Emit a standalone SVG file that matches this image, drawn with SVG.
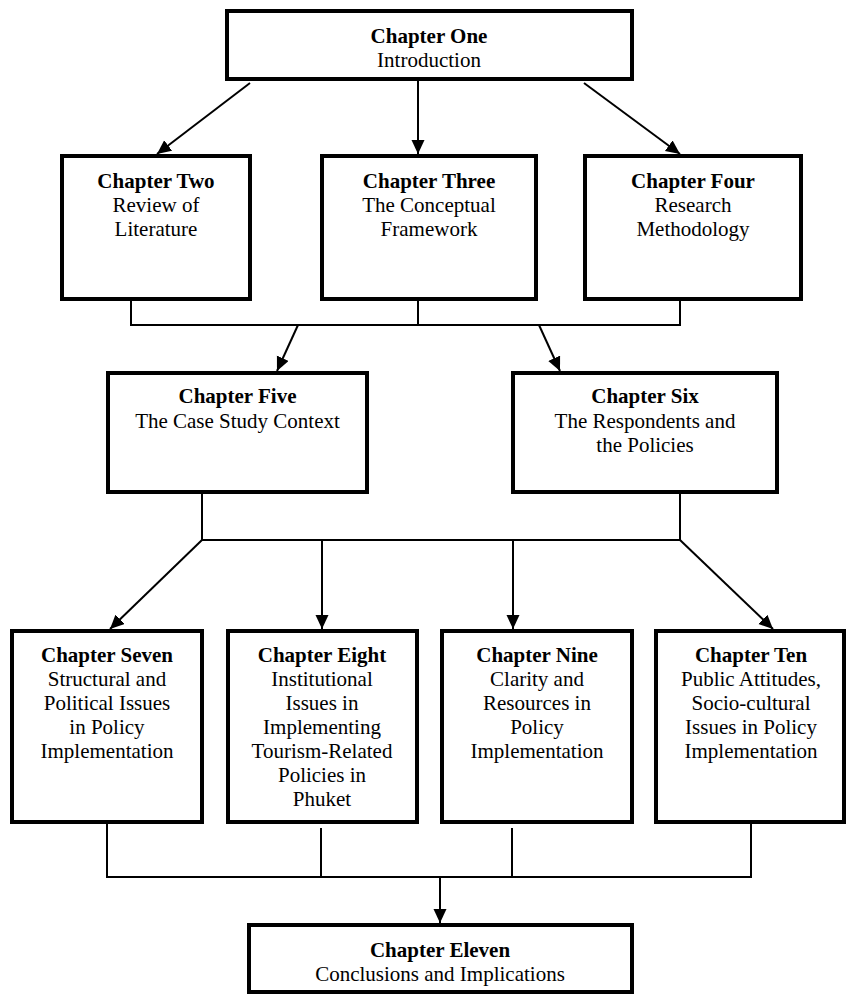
<svg xmlns="http://www.w3.org/2000/svg" width="849" height="997" viewBox="0 0 849 997">
  <defs>
    <marker id="arrow" markerUnits="userSpaceOnUse" markerWidth="15" markerHeight="14" refX="14" refY="6.5" orient="auto">
      <path d="M0,0 L14,6.5 L0,13 z" fill="#000"/>
    </marker>
    <style>
      .box { fill: #fff; stroke: #000; stroke-width: 4; }
      .link { fill: none; stroke: #000; stroke-width: 2; }
      .arr { marker-end: url(#arrow); }
      text { font-family: "Liberation Serif", "Times New Roman", serif; font-size: 21px; fill: #000; text-anchor: middle; }
      .title { font-weight: bold; }
    </style>
  </defs>
  <rect width="849" height="997" fill="#fff"/>

  <!-- connectors -->
  <g id="connectors">
    <!-- Chapter One to the second row -->
    <line class="link arr" x1="250" y1="83" x2="157" y2="154"/>
    <line class="link arr" x1="418" y1="81" x2="418" y2="154"/>
    <line class="link arr" x1="584" y1="83" x2="680" y2="154"/>
    <!-- second row bus -->
    <polyline class="link" points="131,301 131,325 680,325 680,301"/>
    <line class="link" x1="418" y1="301" x2="418" y2="325"/>
    <line class="link arr" x1="298" y1="325" x2="277" y2="371"/>
    <line class="link arr" x1="539" y1="325" x2="560" y2="371"/>
    <!-- third row bus -->
    <polyline class="link" points="202,494 202,540 680,540 680,494"/>
    <line class="link arr" x1="202" y1="540" x2="110" y2="629"/>
    <line class="link arr" x1="322" y1="540" x2="322" y2="629"/>
    <line class="link arr" x1="513" y1="540" x2="513" y2="629"/>
    <line class="link arr" x1="680" y1="540" x2="773" y2="629"/>
    <!-- fourth row bus -->
    <polyline class="link" points="107,824 107,877 751,877 751,824"/>
    <line class="link" x1="321" y1="828" x2="321" y2="877"/>
    <line class="link" x1="512" y1="828" x2="512" y2="877"/>
    <line class="link arr" x1="440" y1="877" x2="440" y2="923"/>
  </g>

  <g id="ch1">
    <rect class="box" x="227" y="11" width="405" height="68"/>
    <text class="title" x="429" y="43">Chapter One</text>
    <text x="429" y="67">Introduction</text>
  </g>

  <g id="ch2">
    <rect class="box" x="62" y="156" width="188" height="143"/>
    <text class="title" x="156" y="188">Chapter Two</text>
    <text x="156" y="212">Review of</text>
    <text x="156" y="236">Literature</text>
  </g>

  <g id="ch3">
    <rect class="box" x="322" y="156" width="214" height="143"/>
    <text class="title" x="429" y="188">Chapter Three</text>
    <text x="429" y="212">The Conceptual</text>
    <text x="429" y="236">Framework</text>
  </g>

  <g id="ch4">
    <rect class="box" x="585" y="156" width="216" height="143"/>
    <text class="title" x="693" y="188">Chapter Four</text>
    <text x="693" y="212">Research</text>
    <text x="693" y="236">Methodology</text>
  </g>

  <g id="ch5">
    <rect class="box" x="108" y="373" width="259" height="119"/>
    <text class="title" x="237.5" y="403">Chapter Five</text>
    <text x="237.5" y="428">The Case Study Context</text>
  </g>

  <g id="ch6">
    <rect class="box" x="513" y="373" width="264" height="119"/>
    <text class="title" x="645" y="403">Chapter Six</text>
    <text x="645" y="428">The Respondents and</text>
    <text x="645" y="452">the Policies</text>
  </g>

  <g id="ch7">
    <rect class="box" x="12" y="631" width="190" height="191"/>
    <text class="title" x="107" y="662">Chapter Seven</text>
    <text x="107" y="686">Structural and</text>
    <text x="107" y="710">Political Issues</text>
    <text x="107" y="734">in Policy</text>
    <text x="107" y="758">Implementation</text>
  </g>

  <g id="ch8">
    <rect class="box" x="228" y="631" width="189" height="191"/>
    <text class="title" x="322" y="662">Chapter Eight</text>
    <text x="322" y="686">Institutional</text>
    <text x="322" y="710">Issues in</text>
    <text x="322" y="734">Implementing</text>
    <text x="322" y="758">Tourism-Related</text>
    <text x="322" y="782">Policies in</text>
    <text x="322" y="806">Phuket</text>
  </g>

  <g id="ch9">
    <rect class="box" x="442" y="631" width="190" height="191"/>
    <text class="title" x="537" y="662">Chapter Nine</text>
    <text x="537" y="686">Clarity and</text>
    <text x="537" y="710">Resources in</text>
    <text x="537" y="734">Policy</text>
    <text x="537" y="758">Implementation</text>
  </g>

  <g id="ch10">
    <rect class="box" x="656" y="631" width="188" height="191"/>
    <text class="title" x="751" y="662">Chapter Ten</text>
    <text x="751" y="686">Public Attitudes,</text>
    <text x="751" y="710">Socio-cultural</text>
    <text x="751" y="734">Issues in Policy</text>
    <text x="751" y="758">Implementation</text>
  </g>

  <g id="ch11">
    <rect class="box" x="249" y="925" width="383" height="67"/>
    <text class="title" x="440" y="957">Chapter Eleven</text>
    <text x="440" y="981">Conclusions and Implications</text>
  </g>
</svg>
